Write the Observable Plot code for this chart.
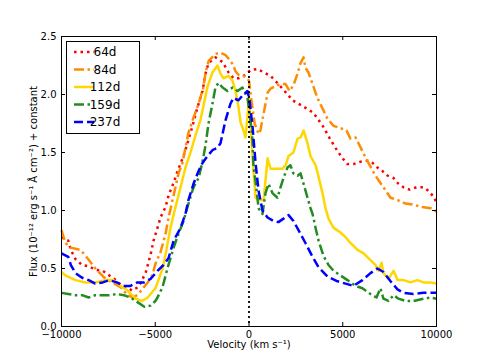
<!DOCTYPE html>
<html><head><meta charset="utf-8">
<script src="https://cdn.jsdelivr.net/npm/d3@7"></script>
<script src="https://cdn.jsdelivr.net/npm/@observablehq/plot@0.6"></script>
<style>body{margin:0;background:#fff;} svg{display:block}</style>
</head><body><div id="chart"></div>
<script>
const xTicks = [-10000, -5000, 0, 5000, 10000];
const yTicks = [0, 0.5, 1, 1.5, 2, 2.5];
const xLabel = "Velocity (km s\u207B\u00B9)";
const yLabel = "Flux (10\u207B\u00B9\u00B2 erg s\u207B\u00B9 \u00C5 cm\u207B\u00B2) + constant";
const labels = ["64d", "84d", "112d", "159d", "237d"];
const colors = ["red", "darkorange", "gold", "forestgreen", "blue"];
const dashes = ["2.5,4", "10,3.5,2.5,3.5", "none", "10,3.5,2.5,3.5", "9,4"];

const v64 = [-10000,-9640,-9500,-9250,-8900,-8550,-8200,-7800,-7450,-7100,-6850,-6500,-6250,-5900,-5700,-5500,-5350,-5250,-5090,-4880,-4720,-4450,-4290,-4020,-3810,-3490,-3280,-3010,-2850,-2690,-2480,-2320,-2160,-1790,-1410,-1090,-830,-560,-290,80,450,800,1150,1570,1950,2320,2850,3170,3440,3710,3970,4240,4610,4990,5250,5570,5950,6310,6590,6850,7120,7390,7710,7970,8240,8560,8930,9310,9570,9840,10000];
const f64 = [0.77,0.74,0.66,0.58,0.53,0.52,0.49,0.48,0.44,0.4,0.36,0.34,0.31,0.34,0.4,0.47,0.56,0.62,0.74,0.85,0.94,1.03,1.13,1.24,1.34,1.47,1.58,1.73,1.83,1.92,2.03,2.18,2.27,2.32,2.28,2.19,2.14,2.14,2.16,2.21,2.22,2.19,2.16,2.09,2.02,1.95,1.9,1.87,1.84,1.78,1.72,1.64,1.54,1.45,1.4,1.4,1.42,1.43,1.41,1.37,1.34,1.3,1.28,1.23,1.2,1.18,1.2,1.2,1.17,1.12,1.07];

const v84 = [-10000,-9790,-9520,-9250,-8990,-8720,-8190,-7650,-7280,-6850,-6480,-6160,-5900,-5650,-5400,-5160,-4990,-4720,-4450,-4290,-4080,-3920,-3760,-3550,-3390,-3230,-2960,-2690,-2450,-2300,-2150,-1790,-1520,-1250,-990,-830,-720,-560,-290,0,130,300,510,610,710,880,1000,1150,1520,1680,1950,2160,2370,2590,2750,2910,3010,3170,3390,3650,3920,4190,4510,4880,5200,5410,5680,5840,6110,6370,6640,6910,7170,7550,7920,8350,8770,9250,9680,10000];
const f84 = [0.83,0.72,0.68,0.67,0.66,0.61,0.5,0.41,0.38,0.34,0.27,0.25,0.28,0.33,0.38,0.44,0.54,0.64,0.8,0.94,1.09,1.2,1.32,1.41,1.54,1.67,1.8,1.92,2.05,2.2,2.29,2.35,2.36,2.34,2.29,2.25,2.2,2.17,2.16,2.12,1.95,1.75,1.66,1.69,1.78,1.92,2.02,2.05,2.08,2.09,2.09,2.03,2.08,2.18,2.27,2.32,2.23,2.19,2.09,1.97,1.88,1.79,1.73,1.71,1.69,1.62,1.63,1.58,1.49,1.41,1.33,1.26,1.2,1.11,1.09,1.06,1.05,1.03,1.02,0.99];

const v112 = [-10000,-9790,-9520,-9250,-8720,-8190,-7650,-7230,-6850,-6480,-6050,-5700,-5400,-5250,-4990,-4830,-4610,-4450,-4190,-3920,-3650,-3390,-3120,-2850,-2590,-2430,-2210,-1950,-1680,-1520,-1360,-1090,-880,-720,-560,-450,-290,-190,-80,0,80,190,350,510,780,880,990,1150,1410,1790,1950,2110,2370,2590,2750,2910,3120,3280,3550,3710,3920,4080,4240,4510,4880,5150,5410,5790,6110,6370,6750,6910,7070,7170,7440,7710,7920,8240,8610,8980,9310,9680,10000];
const f112 = [0.47,0.44,0.42,0.4,0.38,0.38,0.4,0.4,0.35,0.31,0.24,0.22,0.25,0.28,0.33,0.4,0.5,0.62,0.85,1.03,1.2,1.37,1.5,1.65,1.78,1.9,2.07,2.19,2.25,2.18,2.14,2.16,2.12,2.03,1.89,1.76,1.69,1.63,1.8,1.97,1.75,1.46,1.11,1.09,1.09,1.26,1.45,1.36,1.36,1.36,1.39,1.47,1.5,1.62,1.63,1.69,1.58,1.47,1.39,1.29,1.15,1.02,0.93,0.85,0.81,0.77,0.72,0.66,0.63,0.59,0.53,0.48,0.55,0.46,0.41,0.48,0.4,0.4,0.38,0.4,0.38,0.38,0.37];

const v159 = [-10000,-9640,-9250,-8900,-8550,-8200,-7800,-7450,-7050,-6680,-6320,-5950,-5580,-5250,-4990,-4880,-4610,-4350,-4020,-3760,-3490,-3230,-2960,-2690,-2480,-2320,-2160,-1950,-1790,-1630,-1410,-1150,-880,-610,-350,-80,80,190,240,350,510,720,880,1040,1250,1520,1680,1840,2050,2210,2370,2590,2750,2910,3120,3280,3390,3550,3710,3970,4240,4510,4880,5250,5680,6050,6480,6800,7010,7170,7440,7710,7970,8350,8770,9310,9680,10000];
const f159 = [0.29,0.28,0.27,0.27,0.25,0.27,0.27,0.27,0.28,0.27,0.25,0.21,0.17,0.18,0.22,0.25,0.34,0.5,0.68,0.8,0.91,1.06,1.2,1.28,1.42,1.56,1.75,1.92,2.06,2.1,2.06,2.03,2.06,2.03,2.06,1.97,1.78,1.6,1.37,1.25,1.02,0.97,1.15,1.23,1.15,1.11,1.2,1.28,1.37,1.39,1.32,1.3,1.32,1.23,1.11,1.02,0.97,0.85,0.74,0.61,0.53,0.48,0.44,0.4,0.35,0.33,0.28,0.25,0.33,0.24,0.22,0.27,0.24,0.22,0.22,0.24,0.25,0.24];

const v237 = [-10000,-9640,-9500,-9250,-8900,-8550,-8200,-7800,-7450,-7050,-6700,-6320,-5950,-5600,-5250,-5090,-4880,-4560,-4290,-4020,-3650,-3390,-3230,-2960,-2690,-2480,-2210,-1950,-1680,-1520,-1250,-990,-830,-560,-350,-80,30,190,350,510,720,990,1310,1570,1840,2110,2370,2640,3010,3390,3710,4190,4720,5150,5570,6050,6480,6850,7170,7550,7920,8240,8770,9310,10000];
const f237 = [0.63,0.6,0.53,0.46,0.42,0.4,0.37,0.38,0.4,0.38,0.35,0.35,0.38,0.38,0.41,0.44,0.48,0.53,0.59,0.74,0.85,0.97,1.09,1.23,1.34,1.41,1.47,1.52,1.54,1.58,1.78,1.92,1.97,1.95,1.99,2.03,1.95,1.72,1.41,1.17,1.0,0.94,0.91,0.9,0.93,0.96,0.91,0.83,0.72,0.6,0.51,0.43,0.39,0.37,0.35,0.4,0.46,0.5,0.47,0.39,0.32,0.29,0.28,0.29,0.29];

const vs = [v64, v84, v112, v159, v237];
const fs = [f64, f84, f112, f159, f237];

const lineMarks = vs.map((v, k) => Plot.line(v.map((x, i) => ({x, y: fs[k][i]})), {
  x: "x", y: "y", stroke: colors[k], strokeWidth: 2.5,
  strokeDasharray: dashes[k], strokeLinejoin: "round", strokeLinecap: "butt"
}));

const W = 485, H = 363, mL = 61, mR = 49, mT = 36, mB = 37;
const fw = W - mL - mR, fh = H - mT - mB;

const chart = Plot.plot({
  width: W, height: H,
  marginLeft: mL, marginRight: mR, marginTop: mT, marginBottom: mB,
  x: {domain: [-10000, 10000]},
  y: {domain: [0, 2.5]},
  style: {fontFamily: "DejaVu Sans", fontSize: "10px", background: "white", color: "black"},
  marks: [
    ...lineMarks,
    Plot.ruleX([0], {stroke: "black", strokeWidth: 1.8, strokeDasharray: "2,3"}),
    Plot.frame({stroke: "black", strokeWidth: 1}),
    Plot.ruleX(xTicks, {x: d => d, insetTop: fh - 4, stroke: "black"}),
    Plot.ruleX(xTicks, {x: d => d, insetBottom: fh - 4, stroke: "black"}),
    Plot.ruleY(yTicks, {y: d => d, insetRight: fw - 4, stroke: "black"}),
    Plot.ruleY(yTicks, {y: d => d, insetLeft: fw - 4, stroke: "black"}),
    Plot.axisX({ticks: xTicks, tickSize: 0, tickPadding: 4, tickFormat: d3.format("d"), label: null}),
    Plot.axisY({ticks: yTicks, tickSize: 0, tickPadding: 5, tickFormat: d3.format(".1f"), label: null}),
    Plot.text([xLabel], {text: d => d, frameAnchor: "bottom", dy: 21, fontSize: 10, textAnchor: "middle"}),
    Plot.text([yLabel], {text: d => d, frameAnchor: "left", dx: -28, rotate: -90, fontSize: 10, textAnchor: "middle"})
  ]
});
document.getElementById("chart").appendChild(chart);

// legend
const svg = d3.select(chart);
const lg = svg.append("g").attr("font-family", "DejaVu Sans").attr("font-size", 12);
lg.append("rect").attr("x", 66.5).attr("y", 41.5).attr("width", 73).attr("height", 92)
  .attr("fill", "white").attr("stroke", "black").attr("stroke-width", 1);
labels.forEach((lab, k) => {
  const yy = 52 + k * 17.5;
  lg.append("line").attr("x1", 74).attr("x2", 94).attr("y1", yy).attr("y2", yy)
    .attr("stroke", colors[k]).attr("stroke-width", 2.5)
    .attr("stroke-dasharray", dashes[k]);
  lg.append("text").attr("x", 105).attr("y", yy).attr("dy", "0.35em").attr("fill", "black").text(lab);
});
</script>
</body></html>
